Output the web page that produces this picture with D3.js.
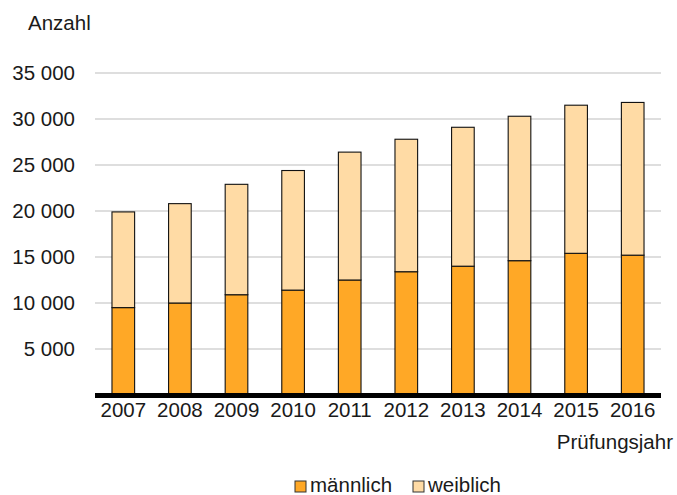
<!DOCTYPE html>
<html>
<head>
<meta charset="utf-8">
<script src="https://cdn.jsdelivr.net/npm/d3@7"></script>
<style>
  body { margin: 0; background: #fff; }
  text { font-family: "Liberation Sans", Arial, sans-serif; fill: #1a1a1a; }
</style>
</head>
<body>
<div id="chart"></div>
<script>
var years = ["2007", "2008", "2009", "2010", "2011", "2012", "2013", "2014", "2015", "2016"];
var maennlich = [9500, 10000, 10900, 11400, 12500, 13400, 14000, 14600, 15400, 15200];
var weiblich = [10400, 10800, 12000, 13000, 13900, 14400, 15100, 15700, 16100, 16600];
var yTicks = [5000, 10000, 15000, 20000, 25000, 30000, 35000];
var seriesNames = ["männlich", "weiblich"];
var seriesColors = ["#FFA826", "#FFDBA5"];

var width = 677, height = 495;
var margin = { top: 73, right: 16, bottom: 100, left: 95 };
var fs = 20.5;

var svg = d3.select("#chart").append("svg")
    .attr("width", width)
    .attr("height", height);

var x = d3.scaleBand()
    .domain(years)
    .range([margin.left, width - margin.right])
    .paddingInner(0.6)
    .paddingOuter(0.3);

var y = d3.scaleLinear()
    .domain([0, 35000])
    .range([height - margin.bottom, margin.top]);

var fmt = function (v) { return d3.format(",")(v).replace(/,/g, " "); };

// gridlines
svg.append("g")
    .selectAll("line")
    .data(yTicks)
    .enter()
    .append("line")
    .attr("x1", margin.left)
    .attr("x2", width - margin.right)
    .attr("y1", function (d) { return y(d); })
    .attr("y2", function (d) { return y(d); })
    .attr("stroke", "#bdbdbd")
    .attr("stroke-width", 1.2);

// y labels
svg.append("g")
    .selectAll("text")
    .data(yTicks)
    .enter()
    .append("text")
    .attr("x", 75)
    .attr("y", function (d) { return y(d); })
    .attr("dy", "0.36em")
    .attr("text-anchor", "end")
    .attr("font-size", fs)
    .text(fmt);

var stackData = years.map(function (yr, i) {
  return { year: yr, "männlich": maennlich[i], "weiblich": weiblich[i] };
});
var stacked = d3.stack().keys(seriesNames)(stackData);

svg.append("g")
    .selectAll("g")
    .data(stacked)
    .enter()
    .append("g")
    .attr("fill", function (d, i) { return seriesColors[i]; })
    .selectAll("rect")
    .data(function (d) { return d; })
    .enter()
    .append("rect")
    .attr("x", function (d) { return x(d.data.year); })
    .attr("y", function (d) { return y(d[1]); })
    .attr("width", x.bandwidth())
    .attr("height", function (d) { return y(d[0]) - y(d[1]); })
    .attr("stroke", "#111")
    .attr("stroke-width", 1.1);

// x axis line
svg.append("line")
    .attr("x1", margin.left)
    .attr("x2", width - margin.right)
    .attr("y1", y(0) + 0.5)
    .attr("y2", y(0) + 0.5)
    .attr("stroke", "#000")
    .attr("stroke-width", 5);

svg.append("g")
    .selectAll("text")
    .data(years)
    .enter()
    .append("text")
    .attr("x", function (d) { return x(d) + x.bandwidth() / 2; })
    .attr("y", 417)
    .attr("text-anchor", "middle")
    .attr("font-size", fs)
    .text(function (d) { return d; });

svg.append("text")
    .attr("x", 28)
    .attr("y", 30)
    .attr("font-size", fs)
    .text("Anzahl");

svg.append("text")
    .attr("x", 673)
    .attr("y", 449)
    .attr("text-anchor", "end")
    .attr("font-size", fs)
    .text("Prüfungsjahr");

// legend
var legendX = [295, 413];
var legend = svg.append("g")
    .selectAll("g")
    .data(seriesNames)
    .enter()
    .append("g")
    .attr("transform", function (d, i) { return "translate(" + legendX[i] + ",481)"; });

legend.append("rect")
    .attr("width", 11)
    .attr("height", 11)
    .attr("fill", function (d, i) { return seriesColors[i]; })
    .attr("stroke", "#333")
    .attr("stroke-width", 1);

legend.append("text")
    .attr("x", 15)
    .attr("y", 11)
    .attr("font-size", fs)
    .text(function (d) { return d; });
</script>
</body>
</html>
